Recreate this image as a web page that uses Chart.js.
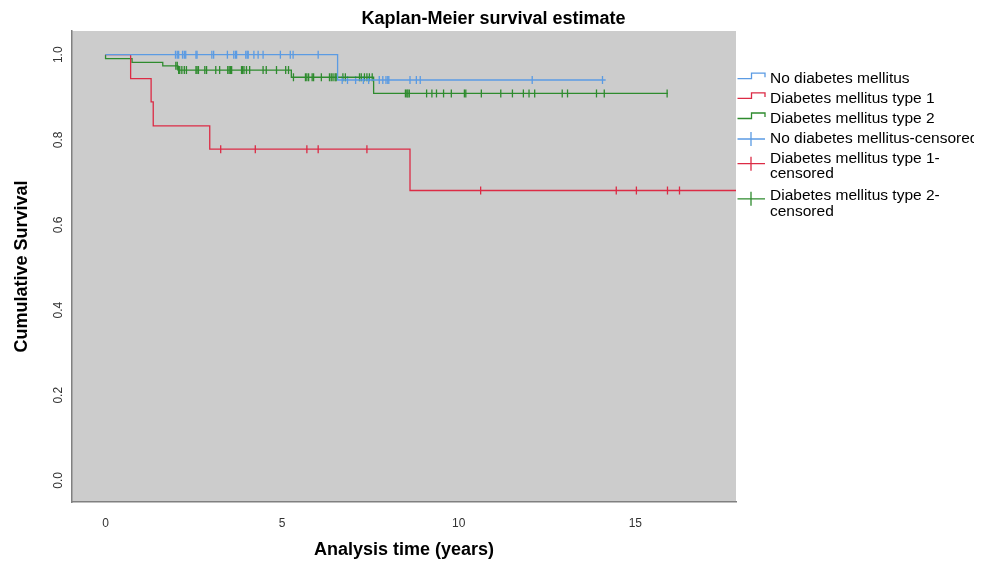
<!DOCTYPE html>
<html>
<head>
<meta charset="utf-8">
<script src="https://cdn.jsdelivr.net/npm/chart.js@4.4.1/dist/chart.umd.min.js"></script>
<style>
  html, body { margin: 0; padding: 0; background: #fff; }
  #wrap { width: 987px; height: 562px; position: relative; }
</style>
</head>
<body>
<div id="wrap"><canvas id="km"></canvas></div>
<script>
// Global font defaults
Chart.defaults.font.family = "'Liberation Sans', Arial, Helvetica, sans-serif";
Chart.defaults.font.size = 12;
Chart.defaults.color = "#333";

// Survival steps (time in years, cumulative survival)
const noDmTimes = [0, 6.57, 14.16];
const noDmSurv = [1.0, 0.9406, 0.9406];
const dm1Times = [0, 0.71, 1.29, 1.35, 2.95, 8.62, 17.85];
const dm1Surv = [1.0, 0.944, 0.889, 0.833, 0.778, 0.681, 0.681];
const dm2Times = [0, 0, 0.75, 1.62, 2.05, 5.26, 7.59, 15.92];
const dm2Surv = [1.0, 0.9906, 0.982, 0.974, 0.964, 0.947, 0.909, 0.909];

// Censoring times (years)
const noDmCensored = [1.98, 2.03, 2.07, 2.18, 2.23, 2.27, 2.56, 2.59, 3.01, 3.06, 3.45, 3.63,
  3.68, 3.71, 3.97, 4.01, 4.04, 4.20, 4.32, 4.46, 4.95, 5.23, 5.31, 6.02,
  6.70, 6.85, 7.08, 7.30, 7.45, 7.75, 7.85, 7.94, 7.99, 8.02, 8.62, 8.80, 8.91, 12.08, 14.07];
const dm1Censored = [3.26, 4.24, 5.70, 6.02, 7.40, 10.62, 14.46, 15.03, 15.91, 16.25];
const dm2Censored = [1.99, 2.03, 2.07, 2.10, 2.16, 2.23, 2.29, 2.56, 2.59, 2.63, 2.81, 2.86,
  3.12, 3.23, 3.46, 3.50, 3.54, 3.57, 3.85, 3.88, 3.92, 3.99, 4.08, 4.46, 4.55, 4.84, 5.10, 5.18,
  5.32, 5.66, 5.70, 5.75, 5.85, 5.89, 6.11, 6.34, 6.39, 6.44, 6.50, 6.53, 6.72, 6.79,
  7.19, 7.24, 7.33, 7.40, 7.47, 7.55,
  8.49, 8.53, 8.56, 8.60, 9.09, 9.24, 9.37, 9.57, 9.79, 10.16, 10.20, 10.64, 11.19, 11.52,
  11.83, 11.99, 12.15, 12.93, 13.08, 13.90, 14.12, 15.90];

const xTicks = [0, 5, 10, 15];
const yTicks = [0, 0.2, 0.4, 0.6, 0.8, 1.0];

const seriesNames = ["No diabetes mellitus", "Diabetes mellitus type 1", "Diabetes mellitus type 2"];
const censoredNames = [
  ["No diabetes mellitus-censored"],
  ["Diabetes mellitus type 1-", "censored"],
  ["Diabetes mellitus type 2-", "censored"],
];

const colors = ["#5b9be3", "#dc2b45", "#2e8b2e"];

// Helper: survival level at time t for a step curve
function survivalAt(times, surv, t) {
  let s = surv[0];
  for (let i = 0; i < times.length; i++) {
    if (times[i] <= t) s = surv[i];
  }
  return s;
}

function toPoints(times, surv) {
  return times.map((t, i) => ({ x: t, y: surv[i] }));
}

function censorPoints(censored, times, surv) {
  return censored.map((t) => ({ x: t, y: survivalAt(times, surv, t) }));
}

const curves = [
  [noDmTimes, noDmSurv, noDmCensored],
  [dm1Times, dm1Surv, dm1Censored],
  [dm2Times, dm2Surv, dm2Censored],
];

const datasets = [];
curves.forEach((c, i) => {
  datasets.push({
    type: "line",
    label: seriesNames[i],
    data: toPoints(c[0], c[1]),
    borderColor: colors[i],
    borderWidth: 1.3,
    stepped: true,
    pointRadius: 0,
    fill: false,
  });
});
curves.forEach((c, i) => {
  datasets.push({
    type: "scatter",
    label: censoredNames[i].join(""),
    data: censorPoints(c[2], c[0], c[1]),
    pointStyle: "line",
    rotation: 90,
    pointRadius: 4,
    pointBorderWidth: 1.3,
    borderColor: colors[i],
    backgroundColor: colors[i],
    showLine: false,
  });
});

// Gray plot background
const plotBackground = {
  id: "plotBackground",
  beforeDraw(chart) {
    const { ctx, chartArea } = chart;
    ctx.save();
    ctx.fillStyle = "#cccccc";
    ctx.fillRect(chartArea.left, chartArea.top, chartArea.right - chartArea.left, chartArea.bottom - chartArea.top);
    ctx.restore();
  },
};

// Legend drawn in the free space right of the plot
const kmLegend = {
  id: "kmLegend",
  afterDraw(chart) {
    const { ctx, chartArea } = chart;
    const x0 = chartArea.right + 1;
    const iconL = x0 + 0.5;
    const iconR = x0 + 28;
    const textX = x0 + 33;
    const lineH = 15.4;
    ctx.save();
    ctx.beginPath();
    ctx.rect(x0, 0, 974 - x0, chart.height);
    ctx.clip();
    ctx.font = "15.5px 'Liberation Sans', Arial, sans-serif";
    ctx.fillStyle = "#000";
    ctx.textBaseline = "middle";
    ctx.textAlign = "left";
    ctx.lineWidth = 1.3;

    const stepY = [78.7, 98.4, 118.5];
    seriesNames.forEach((name, i) => {
      const y = stepY[i];
      ctx.strokeStyle = colors[i];
      ctx.beginPath();
      ctx.moveTo(iconL, y);
      ctx.lineTo(x0 + 14.5, y);
      ctx.lineTo(x0 + 14.5, y - 5.5);
      ctx.lineTo(iconR, y - 5.5);
      ctx.lineTo(iconR, y - 1.5);
      ctx.stroke();
      ctx.fillText(name, textX, y);
    });

    const censY = [139, 158.6, 196];
    const crossY = [139, 163.7, 198.8];
    censoredNames.forEach((lines, i) => {
      const cy = crossY[i];
      ctx.strokeStyle = colors[i];
      ctx.beginPath();
      ctx.moveTo(iconL, cy);
      ctx.lineTo(iconR, cy);
      ctx.moveTo(x0 + 14, cy - 7);
      ctx.lineTo(x0 + 14, cy + 7);
      ctx.stroke();
      lines.forEach((ln, j) => {
        ctx.fillText(ln, textX, censY[i] + j * lineH);
      });
    });
    ctx.restore();
  },
};

const chartOptions = {
  responsive: true,
  maintainAspectRatio: false,
  animation: false,
  devicePixelRatio: 1,
  events: [],
  layout: { padding: 0 },
  scales: {
    x: {
      type: "linear",
      min: -0.95,
      max: 17.85,
      grid: { display: false, drawTicks: false },
      border: { display: true, color: "#808080", width: 1.5 },
      ticks: { padding: 14, color: "#333", font: { size: 12 } },
      afterBuildTicks: (scale) => {
        scale.ticks = xTicks.map((v) => ({ value: v }));
      },
      afterFit: (scale) => {
        scale.height = 60;
      },
      title: {
        display: true,
        text: "Analysis time (years)",
        color: "#000",
        font: { size: 18, weight: "bold" },
        padding: { top: 0, bottom: 1 },
      },
    },
    y: {
      type: "linear",
      position: "left",
      min: -0.0507,
      max: 1.0557,
      grid: { display: false, drawTicks: false },
      border: { display: true, color: "#808080", width: 1.5 },
      ticks: {
        padding: 5,
        minRotation: 90,
        maxRotation: 90,
        crossAlign: "center",
        color: "#333",
        font: { size: 12 },
        callback: (value) => Number(value).toFixed(1),
      },
      afterBuildTicks: (scale) => {
        scale.ticks = yTicks.map((v) => ({ value: v }));
      },
      afterFit: (scale) => {
        scale.width = 72;
      },
      title: {
        display: true,
        text: "Cumulative Survival",
        color: "#000",
        font: { size: 18, weight: "bold" },
        padding: { top: 11, bottom: 0 },
      },
    },
    // empty axis that reserves room for the legend
    legendSpace: {
      type: "linear",
      axis: "y",
      position: "right",
      display: true,
      grid: { display: false, drawTicks: false },
      border: { display: false },
      ticks: { display: false },
      afterFit: (scale) => {
        scale.width = 251;
      },
    },
  },
  plugins: {
    legend: { display: false },
    tooltip: { enabled: false },
    title: {
      display: true,
      text: "Kaplan-Meier survival estimate",
      color: "#000",
      font: { size: 18, weight: "bold" },
      padding: { top: 8, bottom: 1.4 },
    },
  },
};

new Chart(document.getElementById("km").getContext("2d"), {
  type: "line",
  data: { datasets: datasets },
  options: chartOptions,
  plugins: [plotBackground, kmLegend],
});
</script>
</body>
</html>
